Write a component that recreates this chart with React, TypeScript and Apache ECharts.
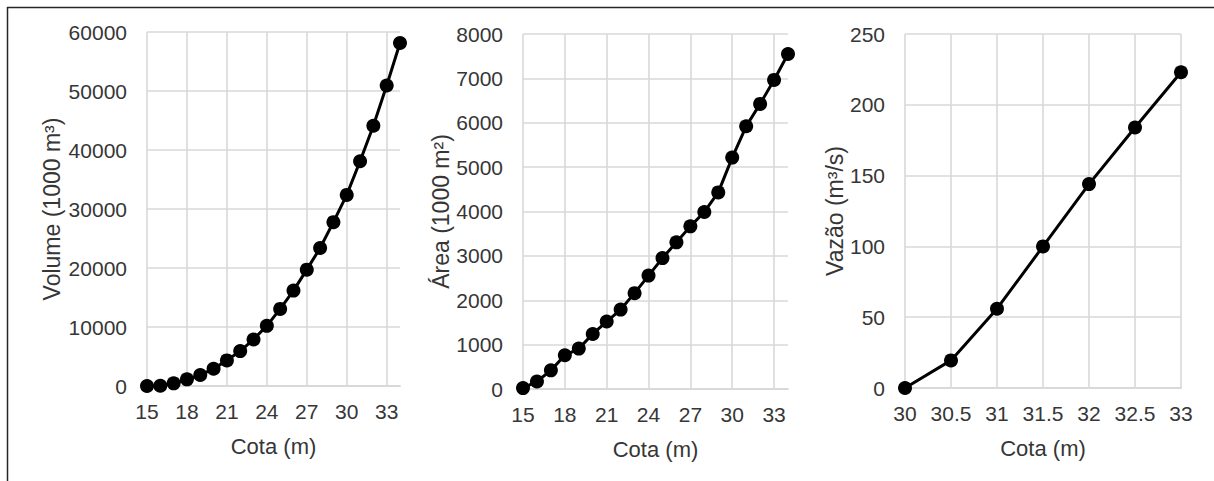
import React, { useEffect, useRef } from "react";
import * as echarts from "echarts";

// Chart 1: Volume vs Cota
const cotaA = [15, 16, 17, 18, 19, 20, 21, 22, 23, 24, 25, 26, 27, 28, 29, 30, 31, 32, 33, 34];
const volume = [0, 50, 450, 1130, 1860, 2930, 4340, 5920, 7890, 10200, 13070, 16170, 19720, 23380, 27770, 32390, 38090, 44110, 50930, 58140];
// Chart 2: Área vs Cota
const area = [20, 170, 420, 760, 910, 1240, 1520, 1790, 2160, 2555, 2950, 3305, 3665, 3990, 4430, 5215, 5920, 6425, 6965, 7550];
// Chart 3: Vazão vs Cota
const cotaC = [30, 30.5, 31, 31.5, 32, 32.5, 33];
const vazao = [0, 19.5, 56, 100, 144, 184, 223];

const yTitles = ["Volume (1000 m³)", "Área (1000 m²)", "Vazão (m³/s)"];
const xTitle = "Cota (m)";

const FONT = "'Liberation Sans', Arial, sans-serif";
const TXT = "#363636";
const GRID = "#d9d9d9";

export default function App() {
  const ref = useRef<HTMLDivElement>(null);
  useEffect(() => {
    if (!ref.current) return;
    const chart = echarts.init(ref.current, undefined, { renderer: "svg" });
    const grids = [
      { left: 147, width: 253, top: 32, height: 354 },
      { left: 523, width: 265, top: 34, height: 355 },
      { left: 905, width: 276, top: 34, height: 354 },
    ];
    const yGaps = [84, 71, 58];
    const xCfg = [
      { min: 15, max: 34, interval: 3, hideMax: true },
      { min: 15, max: 34, interval: 3, hideMax: true },
      { min: 30, max: 33, interval: 0.5, hideMax: false },
    ];
    const yCfg = [
      { min: 0, max: 60000, interval: 10000 },
      { min: 0, max: 8000, interval: 1000 },
      { min: 0, max: 250, interval: 50 },
    ];
    const seriesData = [
      cotaA.map((c, i) => [c, volume[i]]),
      cotaA.map((c, i) => [c, area[i]]),
      cotaC.map((c, i) => [c, vazao[i]]),
    ];
    const plain = (v: number) => String(v);
    const option: any = {
      animation: false,
      textStyle: { fontFamily: FONT },
      grid: grids.map((g) => ({ ...g, containLabel: false })),
      xAxis: xCfg.map((x, i) => ({
        type: "value",
        gridIndex: i,
        min: x.min,
        max: x.max,
        interval: x.interval,
        name: xTitle,
        nameLocation: "middle",
        nameGap: 49,
        nameTextStyle: { color: TXT, fontSize: 22, fontFamily: FONT },
        axisLine: { show: true, lineStyle: { color: GRID, width: 2 } },
        axisTick: { show: false },
        axisLabel: {
          color: TXT,
          fontSize: 21,
          margin: 15,
          fontFamily: FONT,
          formatter: plain,
          showMaxLabel: !x.hideMax,
          showMinLabel: true,
          hideOverlap: false,
        },
        splitLine: {
          show: true,
          showMaxLine: !x.hideMax,
          lineStyle: { color: GRID, width: 1.6 },
        },
      })),
      yAxis: yCfg.map((y, i) => ({
        type: "value",
        gridIndex: i,
        min: y.min,
        max: y.max,
        interval: y.interval,
        name: yTitles[i],
        nameLocation: "middle",
        nameGap: yGaps[i],
        nameRotate: 90,
        nameTextStyle: { color: TXT, fontSize: 23, fontFamily: FONT },
        axisLine: { show: false },
        axisTick: { show: false },
        axisLabel: { color: TXT, fontSize: 21, margin: 20, fontFamily: FONT, formatter: plain },
        splitLine: { show: true, lineStyle: { color: GRID, width: 1.6 } },
      })),
      series: seriesData.map((d, i) => ({
        type: "line",
        xAxisIndex: i,
        yAxisIndex: i,
        data: d,
        symbol: "circle",
        symbolSize: 14,
        showAllSymbol: true,
        lineStyle: { color: "#000", width: 3 },
        itemStyle: { color: "#000" },
        clip: false,
      })),
      graphic: [
        { type: "line", shape: { x1: 7, y1: 7.5, x2: 1214, y2: 7.5 }, style: { stroke: "#262626", lineWidth: 1.5 } },
        { type: "line", shape: { x1: 7.5, y1: 7, x2: 7.5, y2: 481 }, style: { stroke: "#262626", lineWidth: 1.5 } },
      ],
    };
    chart.setOption(option);
    return () => chart.dispose();
  }, []);
  return (
    <div
      ref={ref}
      style={{ position: "absolute", left: 0, top: 0, width: 1214, height: 481, background: "#fff" }}
    />
  );
}
